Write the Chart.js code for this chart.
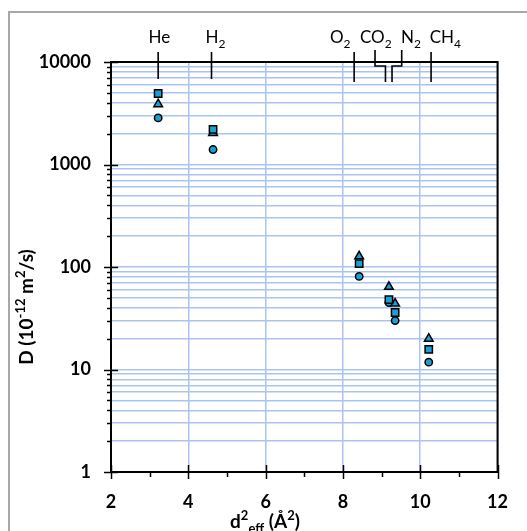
<!DOCTYPE html>
<html>
<head>
<meta charset="utf-8">
<script src="https://cdn.jsdelivr.net/npm/chart.js@4.4.1/dist/chart.umd.min.js"></script>
<style>
  html, body { margin: 0; padding: 0; background: #fff; }
  #wrap { position: relative; width: 527px; height: 531px; overflow: hidden; }
  #frame { position: absolute; left: 8px; top: 11px; width: 600px; height: 600px;
           border-left: 2px solid #a8a8a8; border-top: 2px solid #a8a8a8; }
  canvas { position: absolute; left: 0; top: 0; }
</style>
</head>
<body>
<div id="wrap">
  <div id="frame"></div>
  <canvas id="diffChart" width="527" height="531"></canvas>
</div>
<script>
// Gases and their effective diameter squared (A^2)
const gases = ["He", "H2", "O2", "CO2", "N2", "CH4"];
const dEffSq = [3.22, 4.64, 8.42, 9.19, 9.35, 10.22];

// Diffusivities D (1e-12 m2/s), one array per marker series
const dSquares = [4930, 2200, 108, 48, 36, 15.7];
const dTriangles = [3880, 2030, 127, 64, 44, 20];
const dCircles = [2850, 1400, 81, 45, 30, 11.8];

// Axis ticks
const xTicks = [2, 3, 4, 5, 6, 7, 8, 9, 10, 11, 12];
const xLabels = ["2", "", "4", "", "6", "", "8", "", "10", "", "12"];
const yMajor = [1, 10, 100, 1000, 10000];
const yLabels = ["1", "10", "100", "1000", "10000"];

// Gas marker lines on top of the plot (x in data units)
const gasLabelX = [3.25, 4.7, 7.93, 8.85, 9.76, 10.65];
const gasLineTopX = [3.22, 4.6, 8.29, 8.83, 9.52, 10.28];
const gasLineBottomX = [3.22, 4.6, 8.29, 9.1, 9.27, 10.28];

const gridBlue = "#a9c4f0";
const markerFill = "#1b9fd4";
const fontFamily = "Lato, 'Open Sans', sans-serif";

// build minor log ticks from the decades
const yTicks = [];
yMajor.forEach((d, i) => {
    if (i === yMajor.length - 1) {
        yTicks.push(d);
        return;
    }
    for (let k = 1; k < 10; k++) yTicks.push(d * k);
});

// text with sub/superscripts, parts = [{t, sup, sub}]
function drawRich(ctx, parts, x, y, size, weight, align) {
    const fontFor = p => `${weight} ${(p.sup || p.sub) ? Math.round(size * 0.68) : size}px ${fontFamily}`;
    let w = 0;
    parts.forEach(p => {
        ctx.font = fontFor(p);
        w += ctx.measureText(p.t).width;
    });
    let cx = align === "center" ? x - w / 2 : x;
    parts.forEach(p => {
        ctx.font = fontFor(p);
        const dy = p.sup ? -size * 0.4 : (p.sub ? size * 0.28 : 0);
        ctx.fillText(p.t, cx, y + dy);
        cx += ctx.measureText(p.t).width;
    });
}

function gasParts(name) {
    return name.split(/(\d+)/).filter(s => s).map(s => ({ t: s, sub: /\d/.test(s) }));
}

const axisDecor = {
    id: "axisDecor",
    beforeDatasetsDraw(chart) {
        const { ctx, chartArea: a, scales } = chart;
        ctx.save();
        ctx.strokeStyle = "#000";
        ctx.lineWidth = 2;
        ctx.strokeRect(a.left, a.top, a.right - a.left, a.bottom - a.top);

        ctx.lineWidth = 1.5;
        scales.y.ticks.forEach(t => {
            const py = Math.round(scales.y.getPixelForValue(t.value)) + 0.5;
            const major = yMajor.includes(t.value);
            ctx.beginPath();
            ctx.moveTo(a.left - (major ? 7 : 4), py);
            ctx.lineTo(a.left + (major ? 7 : 0), py);
            ctx.stroke();
        });
        scales.x.ticks.forEach(t => {
            const px = Math.round(scales.x.getPixelForValue(t.value)) + 0.5;
            const major = t.value % 2 === 0;
            ctx.beginPath();
            ctx.moveTo(px, a.bottom - (major ? 7 : 0));
            ctx.lineTo(px, a.bottom + (major ? 7 : 5));
            ctx.stroke();
        });
        ctx.restore();
    },
    afterDraw(chart) {
        const { ctx, chartArea: a, scales } = chart;
        const xs = scales.x;
        ctx.save();

        // gas lines and labels
        ctx.strokeStyle = "#000";
        ctx.lineWidth = 1.6;
        gases.forEach((g, i) => {
            const x1 = xs.getPixelForValue(gasLineTopX[i]);
            const x2 = xs.getPixelForValue(gasLineBottomX[i]);
            ctx.beginPath();
            if (Math.abs(x1 - x2) < 1) {
                ctx.moveTo(x1, a.top - 10);
                ctx.lineTo(x1, a.top + (i < 2 ? 17 : 20));
            } else {
                ctx.moveTo(x1, a.top - 12);
                ctx.lineTo(x1, a.top + 4);
                ctx.lineTo(x2, a.top + 4);
                ctx.lineTo(x2, a.top + 20);
            }
            ctx.stroke();
            ctx.fillStyle = "#000";
            ctx.textBaseline = "alphabetic";
            drawRich(ctx, gasParts(g), xs.getPixelForValue(gasLabelX[i]), a.top - 19, 17, "normal", "center");
        });

        // axis titles
        ctx.fillStyle = "#000";
        drawRich(ctx, [
            { t: "d" }, { t: "2", sup: true }, { t: "eff", sub: true }, { t: " (Å" }, { t: "2", sup: true }, { t: ")" }
        ], 265, 528, 19, "bold", "center");

        ctx.translate(33, 307);
        ctx.rotate(-Math.PI / 2);
        drawRich(ctx, [
            { t: "D (10" }, { t: "-12", sup: true }, { t: " m" }, { t: "2", sup: true }, { t: "/s)" }
        ], 0, 0, 19, "bold", "center");
        ctx.restore();
    }
};

function seriesPoints(values) {
    return dEffSq.map((x, i) => ({ x: x, y: values[i] }));
}

function markerSet(label, values, style, radius) {
    return {
        label: label,
        data: seriesPoints(values),
        pointStyle: style,
        pointRadius: radius,
        pointHoverRadius: radius,
        backgroundColor: markerFill,
        borderColor: "#000",
        pointBorderWidth: 1.5,
        showLine: false,
    };
}

const ctx = document.getElementById("diffChart").getContext("2d");
new Chart(ctx, {
    type: "scatter",
    data: {
        datasets: [
            markerSet("Squares", dSquares, "rect", 5.2),
            markerSet("Triangles", dTriangles, "triangle", 5),
            markerSet("Circles", dCircles, "circle", 3.7),
        ],
    },
    options: {
        responsive: false,
        animation: false,
        layout: { padding: { top: 62, right: 16, left: 0, bottom: 0 } },
        plugins: {
            legend: { display: false },
            tooltip: { enabled: false },
        },
        scales: {
            x: {
                type: "linear",
                min: 2,
                max: 12,
                afterBuildTicks: s => { s.ticks = xTicks.map(v => ({ value: v })); },
                afterFit: s => { s.height = 59; },
                border: { display: false },
                grid: {
                    drawTicks: false,
                    lineWidth: 1.5,
                    color: c => (c.tick && c.tick.value % 2 === 0 ? gridBlue : "rgba(0,0,0,0)"),
                },
                ticks: {
                    autoSkip: false,
                    maxRotation: 0,
                    padding: 19,
                    color: "#000",
                    font: { family: fontFamily, size: 18, weight: "bold" },
                    callback: v => xLabels[xTicks.indexOf(v)] || "",
                },
            },
            y: {
                type: "logarithmic",
                min: 1,
                max: 10000,
                afterBuildTicks: s => { s.ticks = yTicks.map(v => ({ value: v })); },
                afterFit: s => { s.width = 111; },
                border: { display: false },
                grid: {
                    drawTicks: false,
                    lineWidth: 1.5,
                    color: gridBlue,
                },
                ticks: {
                    autoSkip: false,
                    padding: 20,
                    color: "#000",
                    font: { family: fontFamily, size: 18, weight: "bold" },
                    callback: v => {
                        const i = yMajor.indexOf(v);
                        return i >= 0 ? yLabels[i] : "";
                    },
                },
            },
        },
    },
    plugins: [axisDecor],
});
</script>
</body>
</html>
